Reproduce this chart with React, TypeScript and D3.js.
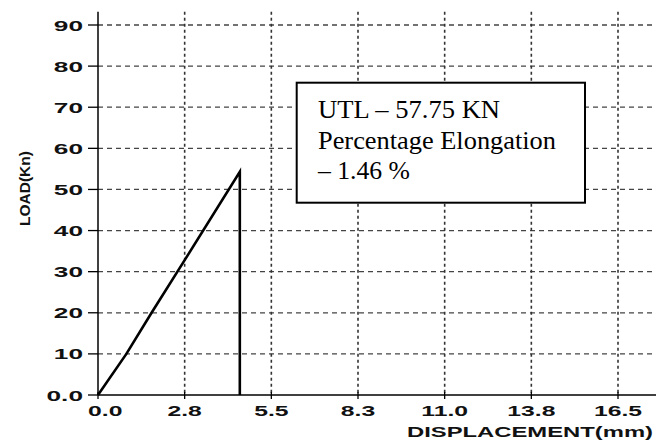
import React from "react";
import * as d3 from "d3";

const W = 656;
const H = 441;

// Data (displacement mm, load kN)
const displacement = [0, 0.9, 1.7, 2.75, 4.5, 4.5];
const load = [0, 10, 20, 32.8, 54.3, 0];

const xTicks = [0, 2.75, 5.5, 8.25, 11, 13.75, 16.5];
const xTickLabels = ["0.0", "2.8", "5.5", "8.3", "11.0", "13.8", "16.5"];
const yTicks = [0, 10, 20, 30, 40, 50, 60, 70, 80, 90];
const yTickLabels = ["0.0", "10", "20", "30", "40", "50", "60", "70", "80", "90"];

const noteLines = ["UTL \u2013 57.75 KN", "Percentage Elongation", "\u2013 1.46 %"];
const noteWidths = [182, 238, 92];

export default function App() {
  const x = d3.scaleLinear().domain([0, 16.5]).range([98, 618]);
  const y = d3.scaleLinear().domain([0, 90]).range([395, 25]);
  const plotTop = y(93.2);
  const plotRight = W;

  const pts: [number, number][] = displacement.map((d, i) => [d, load[i]]);
  const line = d3
    .line<[number, number]>()
    .x((d) => x(d[0]))
    .y((d) => y(d[1]));

  const sans = "'Liberation Sans', Arial, sans-serif";
  const serif = "'Liberation Serif', 'Times New Roman', serif";

  return (
    <div style={{ position: "absolute", left: 0, top: 0 }}>
      <svg width={W} height={H} style={{ display: "block", background: "#fff" }}>
        <rect x={0} y={0} width={W} height={H} fill="#fff" />
        {/* horizontal dashed grid */}
        {yTicks.filter((t) => t > 0).map((t) => (
          <line
            key={"hg" + t}
            x1={x(0)}
            x2={plotRight}
            y1={y(t)}
            y2={y(t)}
            stroke="#444"
            strokeWidth={1.3}
            strokeDasharray="5,4"
          />
        ))}
        {/* vertical dotted grid */}
        {xTicks.filter((t) => t > 0).map((t) => (
          <line
            key={"vg" + t}
            x1={x(t)}
            x2={x(t)}
            y1={plotTop}
            y2={y(0)}
            stroke="#333"
            strokeWidth={1.6}
            strokeDasharray="3,3"
          />
        ))}
        {/* axes */}
        <line x1={x(0)} x2={x(0)} y1={plotTop} y2={y(0)} stroke="#000" strokeWidth={1.5} />
        <line x1={x(0)} x2={plotRight} y1={y(0)} y2={y(0)} stroke="#000" strokeWidth={1.5} />
        {/* y ticks */}
        {yTicks.map((t, i) => (
          <g key={"yt" + t}>
            <line x1={x(0) - 10} x2={x(0)} y1={y(t)} y2={y(t)} stroke="#000" strokeWidth={1.3} />
            <text
              transform={`translate(83,${y(t) + 5.5}) scale(1.75,1)`}
              textAnchor="end"
              fontFamily={sans}
              fontWeight="bold"
              fontSize={15}
              fill="#111"
            >
              {yTickLabels[i]}
            </text>
          </g>
        ))}
        {/* x ticks */}
        {xTicks.map((t, i) => (
          <g key={"xt" + t}>
            <line x1={x(t)} x2={x(t)} y1={y(0) - 3} y2={y(0) + 4} stroke="#000" strokeWidth={1.3} />
            <text
              transform={`translate(${i === 0 ? 88 : x(t)},415.5) scale(1.65,1)`}
              textAnchor={i === 0 ? "start" : "middle"}
              fontFamily={sans}
              fontWeight="bold"
              fontSize={15}
              fill="#111"
            >
              {xTickLabels[i]}
            </text>
          </g>
        ))}
        {/* axis titles */}
        <text
          x={407}
          y={436.5}
          textLength={246}
          lengthAdjust="spacingAndGlyphs"
          fontFamily={sans}
          fontWeight="bold"
          fontSize={15.5}
          fill="#111"
        >
          DISPLACEMENT(mm)
        </text>
        <text
          transform="translate(29.5,188.5) rotate(-90)"
          textAnchor="middle"
          fontFamily={sans}
          fontWeight="bold"
          fontSize={15.5}
          fill="#111"
        >
          LOAD(Kn)
        </text>
        {/* curve */}
        <path d={line(pts) || ""} fill="none" stroke="#000" strokeWidth={2.6} strokeLinejoin="miter" />
        {/* annotation box */}
        <rect x={296.7} y={82.7} width={288.3} height={120} fill="#fff" stroke="#000" strokeWidth={2} />
        {noteLines.map((s, i) => (
          <text
            key={"n" + i}
            x={318}
            y={117.7 + i * 30.8}
            textLength={noteWidths[i]}
            lengthAdjust="spacingAndGlyphs"
            fontFamily={serif}
            fontSize={25}
            fill="#000"
          >
            {s}
          </text>
        ))}
      </svg>
    </div>
  );
}
